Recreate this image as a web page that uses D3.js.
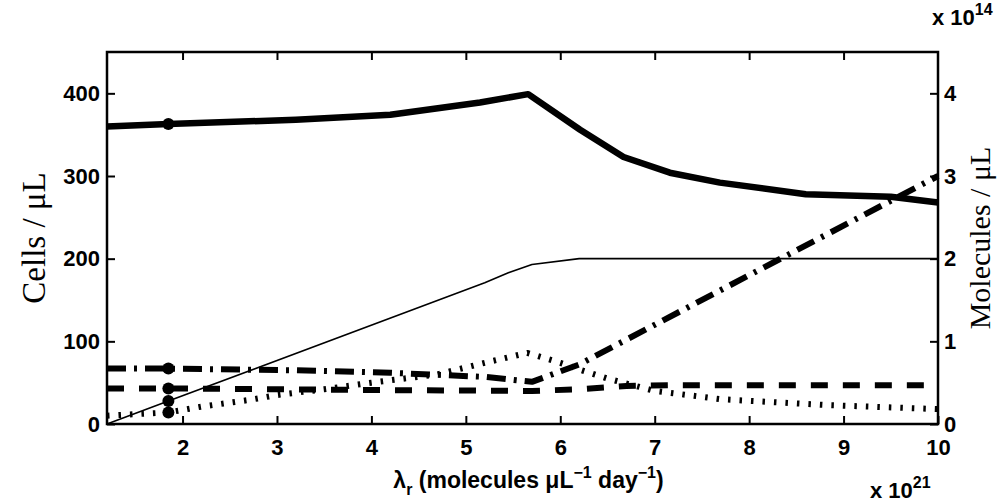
<!DOCTYPE html>
<html>
<head>
<meta charset="utf-8">
<script src="https://cdnjs.cloudflare.com/ajax/libs/d3/7.8.5/d3.min.js"></script>
<style>
    body { margin: 0; background: #fff; }
    svg { display: block; }
    .tick text { font-family: "Liberation Sans", Arial, sans-serif; font-weight: bold; font-size: 22px; fill: #000; }
    .tick line { stroke: #000; stroke-width: 2; }
</style>
</head>
<body>
<script>
// lambda_r (x 10^21), cells on left axis, molecules (x 10^14) on right axis
var xTicks = [2, 3, 4, 5, 6, 7, 8, 9, 10]
var leftTicks = [0, 100, 200, 300, 400]
var rightTicks = [0, 1, 2, 3, 4]

// thick solid, cells / uL
var cellsX = [1.2, 1.85, 3.2, 4.2, 5.15, 5.66, 6.21, 6.67, 7.16, 7.69, 8.6, 9.5, 10]
var cellsY = [360, 363, 368, 374, 389, 399, 356, 323, 304, 292, 278, 275, 268]

// thin solid, molecules / uL
var thinX = [1.2, 1.85, 5.2, 5.45, 5.7, 6.2, 10]
var thinY = [0, 0.277, 1.71, 1.83, 1.93, 2.0, 2.0]

// dash-dot, molecules / uL
var dashDotX = [1.2, 1.85, 3.2, 4.2, 5.2, 5.7, 6.2, 10]
var dashDotY = [0.67, 0.67, 0.65, 0.62, 0.57, 0.51, 0.72, 3.0]

// dashed, cells / uL
var dashedX = [1.2, 1.85, 4.2, 5.7, 6.2, 6.7, 7.2, 10]
var dashedY = [43, 43, 41, 40, 42, 46, 47, 47]

// dotted, cells / uL
var dottedX = [1.2, 1.85, 2.2, 2.7, 3.0, 3.5, 4.0, 4.7, 5.2, 5.65, 6.0, 6.2, 6.5, 7.0, 7.7, 8.8, 10]
var dottedY = [10, 14, 21, 29, 35, 42, 50, 60, 74, 86, 74, 66, 55, 40, 30, 23, 18]

var W = 1001, H = 504
var L = 107, R = 938, T = 52, B = 424

var svg = d3.select('body').append('svg')
    .attr('width', W)
    .attr('height', H)

var x = d3.scaleLinear().domain([1.2, 10]).range([L, R])
var yL = d3.scaleLinear().domain([0, 450]).range([B, T])
var yR = d3.scaleLinear().domain([0, 4.5]).range([B, T])

var zip = function (xs, ys) {
    return xs.map(function (d, i) { return [d, ys[i]] })
}

var drawLine = function (xs, ys, y, w, dash) {
    var line = d3.line()
        .x(function (d) { return x(d[0]) })
        .y(function (d) { return y(d[1]) })
    var p = svg.append('path')
        .datum(zip(xs, ys))
        .attr('d', line)
        .attr('fill', 'none')
        .attr('stroke', '#000')
        .attr('stroke-width', w)
        .attr('stroke-linejoin', 'round')
    if (dash) p.attr('stroke-dasharray', dash)
    return p
}

drawLine(thinX, thinY, yR, 1.6)
drawLine(dottedX, dottedY, yL, 6, '2.5,9')
drawLine(dashedX, dashedY, yL, 6, '17,15')
drawLine(dashDotX, dashDotY, yR, 6, '19,8,3,8')
drawLine(cellsX, cellsY, yL, 6.5)

// markers at the second point of each curve
var markers = [
    [cellsX[1], yL(cellsY[1])],
    [dashDotX[1], yR(dashDotY[1])],
    [dashedX[1], yL(dashedY[1])],
    [thinX[1], yR(thinY[1])],
    [dottedX[1], yL(dottedY[1])]
]
svg.selectAll('circle.mk')
    .data(markers)
    .enter().append('circle')
    .attr('class', 'mk')
    .attr('cx', function (d) { return x(d[0]) })
    .attr('cy', function (d) { return d[1] })
    .attr('r', 6)
    .attr('fill', '#000')

// axes, ticks inward
svg.append('g')
    .attr('transform', 'translate(' + L + ',0)')
    .call(d3.axisLeft(yL).tickValues(leftTicks).tickSize(-8).tickPadding(7))
svg.append('g')
    .attr('transform', 'translate(' + R + ',0)')
    .call(d3.axisRight(yR).tickValues(rightTicks).tickFormat(d3.format('d')).tickSize(-8).tickPadding(6))
svg.append('g')
    .attr('transform', 'translate(0,' + B + ')')
    .call(d3.axisBottom(x).tickValues(xTicks).tickSize(-8).tickPadding(15))
svg.append('g')
    .attr('transform', 'translate(0,' + T + ')')
    .call(d3.axisTop(x).tickValues(xTicks.slice(0, -1)).tickSize(-8).tickFormat(''))
svg.selectAll('.domain').remove()

svg.append('rect')
    .attr('x', L).attr('y', T)
    .attr('width', R - L).attr('height', B - T)
    .attr('fill', 'none')
    .attr('stroke', '#000')
    .attr('stroke-width', 2.5)

// titles
svg.append('text')
    .attr('transform', 'translate(45,' + (T + B) / 2 + ') rotate(-90)')
    .attr('text-anchor', 'middle')
    .attr('font-family', '"Liberation Serif", "Times New Roman", serif')
    .attr('font-size', 33)
    .text('Cells / \u03bcL')

svg.append('text')
    .attr('transform', 'translate(990,' + (T + B) / 2 + ') rotate(-90)')
    .attr('text-anchor', 'middle')
    .attr('font-family', '"Liberation Serif", "Times New Roman", serif')
    .attr('font-size', 30)
    .text('Molecules / \u03bcL')

var xl = svg.append('text')
    .attr('x', (L + R) / 2 + 6)
    .attr('y', 488)
    .attr('text-anchor', 'middle')
    .attr('font-family', '"Liberation Sans", Arial, sans-serif')
    .attr('font-weight', 'bold')
    .attr('font-size', 23)
xl.append('tspan').text('\u03bb')
xl.append('tspan').attr('dy', 7).attr('font-size', 16).text('r')
xl.append('tspan').attr('dy', -7).text(' (molecules \u03bcL')
xl.append('tspan').attr('dy', -10).attr('font-size', 16).text('\u22121')
xl.append('tspan').attr('dy', 10).text(' day')
xl.append('tspan').attr('dy', -10).attr('font-size', 16).text('\u22121')
xl.append('tspan').attr('dy', 10).text(')')

var exp = function (px, py, e) {
    var t = svg.append('text')
        .attr('x', px)
        .attr('y', py)
        .attr('font-family', '"Liberation Sans", Arial, sans-serif')
        .attr('font-weight', 'bold')
        .attr('font-size', 22)
    t.append('tspan').text('x 10')
    t.append('tspan').attr('dy', -10).attr('font-size', 16).text(e)
}
exp(870, 498, '21')
exp(932, 25, '14')
</script>
</body>
</html>
